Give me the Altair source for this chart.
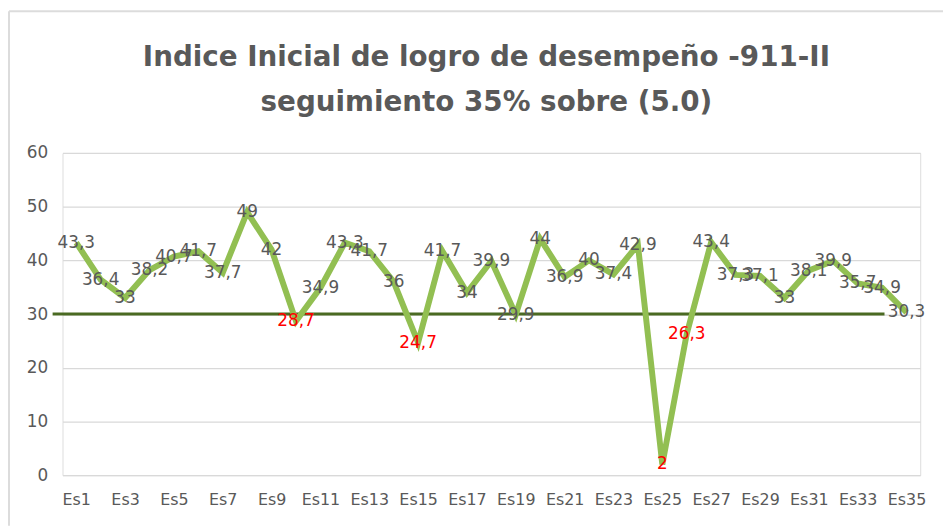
import altair as alt
import pandas as pd

categories = ["Es1", "Es2", "Es3", "Es4", "Es5", "Es6", "Es7", "Es8", "Es9", "Es10",
              "Es11", "Es12", "Es13", "Es14", "Es15", "Es16", "Es17", "Es18", "Es19", "Es20",
              "Es21", "Es22", "Es23", "Es24", "Es25", "Es26", "Es27", "Es28", "Es29", "Es30",
              "Es31", "Es32", "Es33", "Es34", "Es35"]
values = [43.3, 36.4, 33, 38.2, 40.7, 41.7, 37.7, 49, 42, 28.7,
          34.9, 43.3, 41.7, 36, 24.7, 41.7, 34, 39.9, 29.9, 44,
          36.9, 40, 37.4, 42.9, 2, 26.3, 43.4, 37.3, 37.1, 33,
          38.1, 39.9, 35.7, 34.9, 30.3]
threshold = [30]
tick_labels = ["Es1", "Es3", "Es5", "Es7", "Es9", "Es11", "Es13", "Es15", "Es17",
               "Es19", "Es21", "Es23", "Es25", "Es27", "Es29", "Es31", "Es33", "Es35"]
title_lines = ["Indice Inicial de logro de desempeño -911-II", "seguimiento 35% sobre (5.0)"]

df = pd.DataFrame({"cat": categories, "v": values})
df["label"] = [("%g" % v).replace(".", ",") for v in values]
thr = pd.DataFrame({"t": threshold})
dummy = pd.DataFrame({"a": [0]})

FONT = "DejaVu Sans"
GRAY = "#595959"

x_enc = alt.X("cat:N", sort=categories,
              scale=alt.Scale(type="point", padding=0.56),
              axis=alt.Axis(values=tick_labels, labelAngle=0, title=None, ticks=False,
                            domain=False, grid=False, labelFont=FONT, labelFontSize=16,
                            labelColor=GRAY, labelPadding=17))
y_enc = alt.Y("v:Q", scale=alt.Scale(domain=[0, 60], nice=False),
              axis=alt.Axis(values=[0, 10, 20, 30, 40, 50, 60], title=None, ticks=False,
                            domain=False, grid=True, gridColor="#d9d9d9", gridWidth=1.3,
                            labelFont=FONT, labelFontSize=17, labelColor=GRAY,
                            labelPadding=15))

border_left = alt.Chart(dummy).mark_rule(color="#dcdcdc", strokeWidth=2).encode(
    x=alt.value(-54), y=alt.value(-143), y2=alt.value(376))
border_top = alt.Chart(dummy).mark_rule(color="#dcdcdc", strokeWidth=2).encode(
    x=alt.value(-54), x2=alt.value(888), y=alt.value(-143))

rule = alt.Chart(thr).mark_rule(color="#4a6a22", strokeWidth=3).encode(
    y=alt.Y("t:Q", scale=alt.Scale(domain=[0, 60], nice=False)),
    x=alt.value(-10), x2=alt.value(829))

line = alt.Chart(df).mark_line(color="#92bf52", strokeWidth=6, strokeJoin="miter").encode(
    x=x_enc, y=y_enc)

text = alt.Chart(df).mark_text(font=FONT, fontSize=17, baseline="middle", align="center").encode(
    x=alt.X("cat:N", sort=categories),
    y=alt.Y("v:Q"),
    text="label:N",
    color=alt.condition(alt.datum.v < 29.5, alt.value("#ff0000"), alt.value(GRAY)))

chart = alt.layer(border_left, border_top, rule, line, text).properties(
    width=865, height=325,
    autosize=alt.AutoSizeParams(type="none"),
    padding={"left": 55, "top": 144, "right": 23, "bottom": 51},
    title=alt.TitleParams(title_lines, font=FONT, fontSize=28, fontWeight="bold",
                          color=GRAY, anchor="middle", offset=-108, lineHeight=46, dx=-5),
).configure_view(stroke=None).configure(background="white")

chart.save("out.html", embed_options={"renderer": "svg", "actions": False})
